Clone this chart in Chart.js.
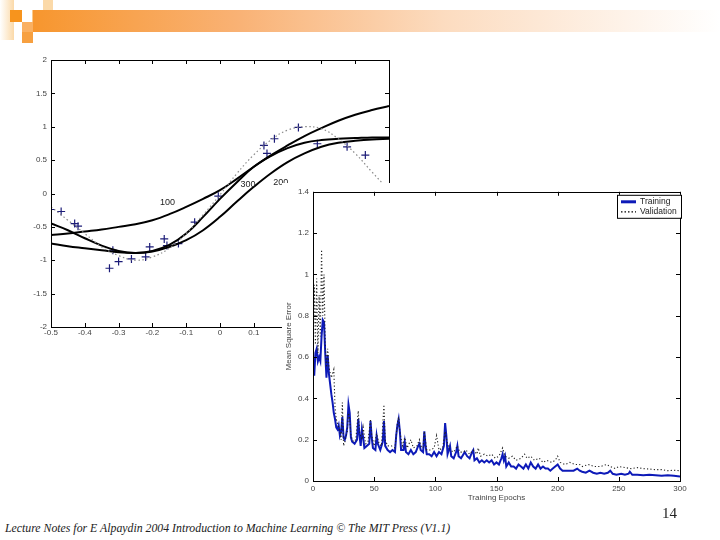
<!DOCTYPE html>
<html>
<head>
<meta charset="utf-8">
<script src="https://cdn.jsdelivr.net/npm/chart.js@4.4.1/dist/chart.umd.min.js"></script>
<style>
  html, body { margin: 0; padding: 0; background: #fff; }
  body { width: 720px; height: 540px; position: relative; overflow: hidden; font-family: "Liberation Sans", sans-serif; }
  .sq { position: absolute; }
  #bar { position: absolute; left: 33px; top: 10px; width: 687px; height: 22px;
         background: linear-gradient(to right, #f7962e 0%, #f9b275 30%, #fcdcc0 60%, #fff 100%); }
  #wrapFit { position: absolute; left: 0; top: 50px; width: 400px; height: 290px; }
  #wrapErr { position: absolute; left: 282px; top: 183px; width: 410px; height: 322px; background: #fff; }
  #footer { position: absolute; left: 5px; top: 521px; font: italic 11.8px "Liberation Serif", serif; color: #222; white-space: nowrap; }
  #page { position: absolute; left: 662px; top: 505px; font: 15px "Liberation Serif", serif; color: #222; }
</style>
</head>
<body>
<div class="sq" style="left:0;top:0;width:14px;height:40px;background:linear-gradient(to right,#fff,#fbd9a8)"></div>
<div class="sq" style="left:10px;top:10px;width:12px;height:12px;background:#f7941d"></div>
<div class="sq" style="left:32px;top:10px;width:11px;height:12px;background:#fbc98a"></div>
<div class="sq" style="left:43px;top:0;width:10px;height:10px;background:#fbd9a8"></div>
<div class="sq" style="left:22px;top:22px;width:11px;height:10px;background:#fab061"></div>
<div class="sq" style="left:22px;top:32px;width:11px;height:11px;background:#f7a040"></div>
<div id="bar"></div>

<div id="wrapFit"><canvas id="fit"></canvas></div>
<div id="wrapErr"><canvas id="err"></canvas></div>

<div id="footer">Lecture Notes for E Alpaydin 2004 Introduction to Machine Learning © The MIT Press (V1.1)</div>
<div id="page">14</div>

<script>
// ---- Ajuste de la curva (gráfico de la izquierda) ----
const curveX = [-0.5, -0.45, -0.4, -0.35, -0.3, -0.25, -0.2, -0.15, -0.1, -0.05, 0, 0.05, 0.1, 0.15, 0.2, 0.25, 0.3, 0.35, 0.4, 0.45, 0.5];
const verdadera = [-0.2, -0.4, -0.6, -0.8, -0.93, -1.0, -0.95, -0.82, -0.6, -0.32, -0.02, 0.3, 0.58, 0.8, 0.95, 1.0, 0.97, 0.82, 0.6, 0.32, 0.05];
const ajuste100 = [-0.62, -0.6, -0.57, -0.54, -0.5, -0.46, -0.4, -0.31, -0.2, -0.08, 0.05, 0.22, 0.4, 0.57, 0.72, 0.86, 0.98, 1.09, 1.18, 1.25, 1.31];
const ajuste300 = [-0.45, -0.55, -0.67, -0.78, -0.86, -0.89, -0.86, -0.77, -0.6, -0.35, -0.08, 0.17, 0.4, 0.56, 0.68, 0.76, 0.8, 0.82, 0.83, 0.84, 0.84];
const ajuste200 = [-0.75, -0.79, -0.82, -0.85, -0.88, -0.89, -0.87, -0.8, -0.7, -0.55, -0.35, -0.12, 0.1, 0.3, 0.47, 0.6, 0.7, 0.76, 0.79, 0.81, 0.82];

const muestraX = [-0.5, -0.47, -0.43, -0.42, -0.327, -0.317, -0.3, -0.262, -0.22, -0.208, -0.165, -0.157, -0.123, -0.075, -0.005, 0.13, 0.139, 0.161, 0.232, 0.288, 0.376, 0.43];
const muestraY = [-0.24, -0.27, -0.45, -0.49, -1.12, -0.85, -1.02, -0.98, -0.95, -0.8, -0.68, -0.78, -0.75, -0.43, -0.04, 0.72, 0.6, 0.82, 0.99, 0.745, 0.7, 0.575];

const etiquetasCurva = [
  { texto: "100", x: -0.155, y: -0.14 },
  { texto: "300", x: 0.083, y: 0.14 },
  { texto: "200", x: 0.18, y: 0.17 }
];

// ---- Error cuadrático medio (gráfico de la derecha) ----
const epocasEnt = [0,1,2,3,4,5,6,7,8,9,10,11,12,13,14,15,16,17,18,19,20,21,22,23,24,25,26,27,28,29,30,31,32,34,36,37,38,39,40,41,42,44,46,47,48,49,51,52,53,55,57,58,59,61,63,65,67,68,69,70,71,72,74,75,76,78,80,82,84,86,87,88,90,91,92,93,95,97,99,101,103,105,107,108,109,110,112,113,115,117,118,119,121,123,124,126,128,130,131,132,134,136,138,140,142,144,146,148,150,152,154,155,156,157,158,160,162,164,166,168,170,172,174,176,178,180,182,184,186,188,190,192,194,196,198,200,202,204,207,210,213,216,218,220,223,226,229,232,235,238,241,243,245,248,252,255,258,259,261,265,270,275,280,285,290,295,300];
const entrenamiento = [0.60,0.51,0.62,0.64,0.58,0.60,0.58,0.70,0.78,0.77,0.62,0.50,0.61,0.52,0.47,0.42,0.38,0.33,0.30,0.26,0.25,0.27,0.22,0.24,0.31,0.21,0.20,0.22,0.26,0.37,0.33,0.21,0.19,0.18,0.20,0.30,0.22,0.17,0.25,0.21,0.16,0.17,0.18,0.29,0.21,0.16,0.15,0.22,0.18,0.15,0.19,0.29,0.17,0.15,0.14,0.15,0.14,0.22,0.27,0.30,0.24,0.15,0.15,0.19,0.14,0.13,0.15,0.13,0.14,0.17,0.18,0.15,0.14,0.24,0.17,0.13,0.13,0.12,0.14,0.12,0.14,0.13,0.17,0.28,0.22,0.13,0.17,0.12,0.11,0.14,0.17,0.12,0.11,0.13,0.14,0.12,0.11,0.14,0.15,0.10,0.11,0.09,0.10,0.09,0.10,0.09,0.10,0.08,0.09,0.08,0.11,0.13,0.10,0.12,0.07,0.09,0.07,0.07,0.06,0.08,0.07,0.06,0.08,0.06,0.09,0.07,0.06,0.08,0.06,0.07,0.06,0.06,0.05,0.06,0.07,0.08,0.06,0.05,0.05,0.05,0.05,0.06,0.05,0.045,0.04,0.05,0.04,0.035,0.04,0.035,0.04,0.05,0.035,0.03,0.035,0.03,0.035,0.045,0.03,0.03,0.028,0.03,0.028,0.025,0.028,0.025,0.022];

const epocasVal = [0,1,2,3,4,5,6,7,8,9,10,11,12,13,15,17,18,19,20,22,23,24,25,26,28,29,30,31,33,35,37,38,40,41,43,45,47,48,50,52,54,56,58,59,61,64,67,69,70,71,73,75,77,80,82,85,87,88,90,91,93,96,99,101,103,106,108,110,112,115,118,120,123,125,128,131,134,135,137,140,143,146,149,152,155,157,160,163,166,170,173,175,178,181,185,188,191,195,198,200,202,206,210,214,218,220,225,230,235,240,243,247,250,255,260,265,270,275,280,285,290,295,300];
const validacion = [0.62,0.95,0.66,0.98,0.62,0.90,0.70,1.12,0.80,1.00,0.66,0.55,0.64,0.55,0.50,0.54,0.36,0.30,0.28,0.24,0.20,0.38,0.17,0.19,0.24,0.33,0.30,0.22,0.19,0.20,0.34,0.24,0.20,0.26,0.18,0.19,0.30,0.22,0.17,0.23,0.18,0.17,0.37,0.20,0.17,0.17,0.16,0.28,0.31,0.24,0.17,0.21,0.16,0.20,0.16,0.17,0.20,0.17,0.16,0.24,0.15,0.15,0.16,0.22,0.15,0.16,0.24,0.18,0.15,0.14,0.17,0.14,0.14,0.15,0.13,0.15,0.13,0.16,0.12,0.13,0.12,0.13,0.11,0.12,0.16,0.12,0.11,0.12,0.10,0.11,0.13,0.11,0.12,0.10,0.11,0.09,0.10,0.09,0.10,0.12,0.09,0.08,0.09,0.08,0.08,0.07,0.08,0.07,0.07,0.08,0.07,0.06,0.07,0.065,0.06,0.065,0.06,0.058,0.055,0.055,0.05,0.052,0.05];

const FUENTE = "'Liberation Sans', Arial, sans-serif";
const COLOR_TEXTO = "#444";
const AZUL = "#0d1ab8";

const pares = (xs, ys) => xs.map((x, i) => ({ x, y: ys[i] }));

// marco estilo MATLAB: caja completa con marcas hacia dentro
const marcoMatlab = {
  id: "marcoMatlab",
  afterDraw(chart) {
    const { ctx, chartArea: a, scales } = chart;
    ctx.save();
    ctx.strokeStyle = "#000";
    ctx.lineWidth = 1;
    ctx.strokeRect(Math.round(a.left) + 0.5, Math.round(a.top) + 0.5, Math.round(a.right - a.left), Math.round(a.bottom - a.top));
    ctx.beginPath();
    scales.x.ticks.forEach(t => {
      const px = Math.round(scales.x.getPixelForValue(t.value)) + 0.5;
      ctx.moveTo(px, a.bottom); ctx.lineTo(px, a.bottom - 4);
      ctx.moveTo(px, a.top); ctx.lineTo(px, a.top + 4);
    });
    scales.y.ticks.forEach(t => {
      const py = Math.round(scales.y.getPixelForValue(t.value)) + 0.5;
      ctx.moveTo(a.left, py); ctx.lineTo(a.left + 4, py);
      ctx.moveTo(a.right, py); ctx.lineTo(a.right - 4, py);
    });
    ctx.stroke();
    ctx.restore();
  }
};

const rotulosCurva = {
  id: "rotulosCurva",
  afterDatasetsDraw(chart) {
    const { ctx, scales } = chart;
    ctx.save();
    ctx.font = "9px " + FUENTE;
    ctx.fillStyle = "#222";
    ctx.textAlign = "center";
    ctx.textBaseline = "middle";
    etiquetasCurva.forEach(e => ctx.fillText(e.texto, scales.x.getPixelForValue(e.x), scales.y.getPixelForValue(e.y)));
    ctx.restore();
  }
};

const leyendaCaja = {
  id: "leyendaCaja",
  afterDraw(chart) {
    const { ctx, chartArea: a } = chart;
    const x0 = a.right - 63, y0 = a.top + 3, w = 64, h = 23;
    ctx.save();
    ctx.fillStyle = "#fff";
    ctx.fillRect(x0, y0, w, h);
    ctx.strokeStyle = "#000";
    ctx.lineWidth = 1;
    ctx.strokeRect(x0 + 0.5, y0 + 0.5, w, h);
    ctx.lineWidth = 3;
    ctx.strokeStyle = AZUL;
    ctx.beginPath(); ctx.moveTo(x0 + 4, y0 + 7); ctx.lineTo(x0 + 19, y0 + 7); ctx.stroke();
    ctx.lineWidth = 1.2;
    ctx.strokeStyle = "#000";
    ctx.setLineDash([1.5, 2]);
    ctx.beginPath(); ctx.moveTo(x0 + 4, y0 + 17); ctx.lineTo(x0 + 19, y0 + 17); ctx.stroke();
    ctx.setLineDash([]);
    ctx.font = "8.5px " + FUENTE;
    ctx.fillStyle = "#222";
    ctx.textBaseline = "middle";
    ctx.fillText("Training", x0 + 23, y0 + 7);
    ctx.fillText("Validation", x0 + 23, y0 + 17);
    ctx.restore();
  }
};

const ticksBase = { color: COLOR_TEXTO, font: { family: FUENTE, size: 8 } };
const sinRejilla = { display: false, drawTicks: false };

new Chart(document.getElementById("fit"), {
  type: "line",
  data: {
    datasets: [
      { data: pares(curveX, verdadera), borderColor: "#8a8a8a", borderWidth: 1.2, borderDash: [1.5, 2.5], pointRadius: 0, tension: 0.4 },
      { data: pares(curveX, ajuste100), borderColor: "#000", borderWidth: 2, pointRadius: 0, tension: 0.4 },
      { data: pares(curveX, ajuste300), borderColor: "#000", borderWidth: 2, pointRadius: 0, tension: 0.4 },
      { data: pares(curveX, ajuste200), borderColor: "#000", borderWidth: 2, pointRadius: 0, tension: 0.4 },
      { data: pares(muestraX, muestraY), showLine: false, pointStyle: "cross", pointRadius: 4, borderColor: "#1c1c78", borderWidth: 1.2 }
    ]
  },
  options: {
    responsive: true,
    maintainAspectRatio: false,
    animation: false,
    layout: { padding: { top: 10, right: 11, bottom: 3, left: 0 } },
    plugins: { legend: { display: false }, tooltip: { enabled: false } },
    scales: {
      x: {
        type: "linear", min: -0.5, max: 0.5,
        grid: sinRejilla,
        border: { display: false },
        ticks: { ...ticksBase, stepSize: 0.1, padding: 1, maxRotation: 0, autoSkip: false, callback: v => +v.toFixed(1) },
        afterFit: s => { s.height = 10; }
      },
      y: {
        min: -2, max: 2,
        grid: sinRejilla,
        border: { display: false },
        ticks: { ...ticksBase, stepSize: 0.5, padding: 4, callback: v => +v.toFixed(1) },
        afterFit: s => { s.width = 51; }
      }
    }
  },
  plugins: [marcoMatlab, rotulosCurva]
});

new Chart(document.getElementById("err"), {
  type: "line",
  data: {
    datasets: [
      { label: "Validation", data: pares(epocasVal, validacion), borderColor: "#222", borderWidth: 1.1, borderDash: [1.2, 2.2], pointRadius: 0, tension: 0 },
      { label: "Training", data: pares(epocasEnt, entrenamiento), borderColor: AZUL, borderWidth: 2, pointRadius: 0, tension: 0 }
    ]
  },
  options: {
    responsive: true,
    maintainAspectRatio: false,
    animation: false,
    layout: { padding: { top: 7, right: 12, bottom: 0, left: 0 } },
    plugins: { legend: { display: false }, tooltip: { enabled: false } },
    scales: {
      x: {
        type: "linear", min: 0, max: 300,
        grid: sinRejilla,
        border: { display: false },
        ticks: { ...ticksBase, stepSize: 50, padding: 3, maxRotation: 0 },
        title: { display: true, text: "Training Epochs", color: COLOR_TEXTO, font: { family: FUENTE, size: 8 }, padding: { top: 0, bottom: 2 } },
        afterFit: s => { s.height = 24; }
      },
      y: {
        min: 0, max: 1.4,
        grid: sinRejilla,
        border: { display: false },
        ticks: { ...ticksBase, stepSize: 0.2, padding: 4, callback: v => +v.toFixed(1) },
        title: { display: true, text: "Mean Square Error", color: COLOR_TEXTO, font: { family: FUENTE, size: 8 }, padding: { top: 2, bottom: 0 } },
        afterFit: s => { s.width = 31; }
      }
    }
  },
  plugins: [marcoMatlab, leyendaCaja]
});
</script>
</body>
</html>
